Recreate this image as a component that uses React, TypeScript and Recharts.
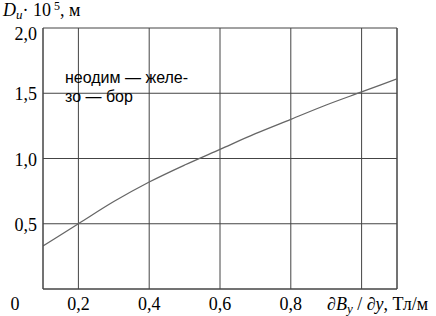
import React from 'react';
import { LineChart, Line, XAxis, YAxis, CartesianGrid, ReferenceLine } from 'recharts';

// field gradient, T/m
const gradValues = [0.1, 0.2, 0.3, 0.4, 0.5, 0.6, 0.7, 0.8, 0.9, 1.0, 1.1];
// D_и · 10^5, m
const diamValues = [0.33, 0.5, 0.67, 0.82, 0.95, 1.07, 1.19, 1.3, 1.41, 1.51, 1.61];

const xTicks = [0.2, 0.4, 0.6, 0.8, 1.0];
const yTicks = [0, 0.5, 1.0, 1.5, 2.0];
const legendLines = ['неодим — желе-', 'зо — бор'];

const data = gradValues.map((g, i) => ({ g, d: diamValues[i] }));

const fmt = (v: number) => v.toFixed(1).replace('.', ',');
const SERIF = '"Liberation Serif", "DejaVu Serif", serif';
const SANS = '"Liberation Sans", Arial, sans-serif';
const GRID = '#444';

const XTick = (props: any) => {
  const { x, y, payload } = props;
  if (payload.value > 0.95) return null;
  return (
    <text x={x} y={y} dy={13} textAnchor="middle" fontFamily={SERIF} fontSize={18} fill="#000">
      {fmt(payload.value)}
    </text>
  );
};

const YTick = (props: any) => {
  const { y, payload } = props;
  if (payload.value === 0) {
    return (
      <text x={15} y={y} dy={21} textAnchor="middle" fontFamily={SERIF} fontSize={18} fill="#000">
        0
      </text>
    );
  }
  const shift = payload.value === 2 ? 5 : 0;
  return (
    <text x={37} y={y} dy={7 + shift} textAnchor="end" fontFamily={SERIF} fontSize={18} fill="#000">
      {fmt(payload.value)}
    </text>
  );
};

export default function App() {
  return (
    <div style={{ position: 'absolute', left: 0, top: 0, width: 436, height: 316, background: '#fff' }}>
      <LineChart width={436} height={316} data={data} margin={{ top: 28, right: 39, left: 0, bottom: 0 }}>
        <CartesianGrid stroke={GRID} strokeWidth={1} />
        <XAxis
          dataKey="g"
          type="number"
          domain={[0.1, 1.1]}
          ticks={xTicks}
          allowDataOverflow
          height={27}
          tickLine={false}
          axisLine={{ stroke: GRID }}
          tick={<XTick />}
        />
        <YAxis
          type="number"
          domain={[0, 2]}
          ticks={yTicks}
          allowDataOverflow
          width={43}
          tickLine={false}
          axisLine={{ stroke: GRID }}
          tick={<YTick />}
        />
        <ReferenceLine x={1.1} stroke={GRID} ifOverflow="visible" />
        <Line
          type="monotone"
          dataKey="d"
          stroke="#666"
          strokeWidth={1.3}
          dot={false}
          isAnimationActive={false}
        />
      </LineChart>
      <svg
        width={436}
        height={316}
        style={{ position: 'absolute', left: 0, top: 0, pointerEvents: 'none' }}
      >
        <text x={3} y={16} fontFamily={SERIF} fontSize={18} fill="#000">
          <tspan fontStyle="italic">D</tspan>
          <tspan fontStyle="italic" fontSize={13} dy={3}>и</tspan>
          <tspan dy={-3}>· 10</tspan>
          <tspan fontSize={12} dx={3} dy={-6}>5</tspan>
          <tspan dy={6}>, м</tspan>
        </text>
        {legendLines.map((t, i) => (
          <text key={i} x={65} y={83 + i * 19} fontFamily={SANS} fontSize={16} fill="#000">
            {t}
          </text>
        ))}
        <text x={327} y={310} fontFamily={SERIF} fontSize={18} fill="#000">
          <tspan fontStyle="italic">∂B</tspan>
          <tspan fontStyle="italic" fontSize={13} dy={3}>y</tspan>
          <tspan dy={-3}> / </tspan>
          <tspan fontStyle="italic">∂y</tspan>
          <tspan>, Тл/м</tspan>
        </text>
      </svg>
    </div>
  );
}
